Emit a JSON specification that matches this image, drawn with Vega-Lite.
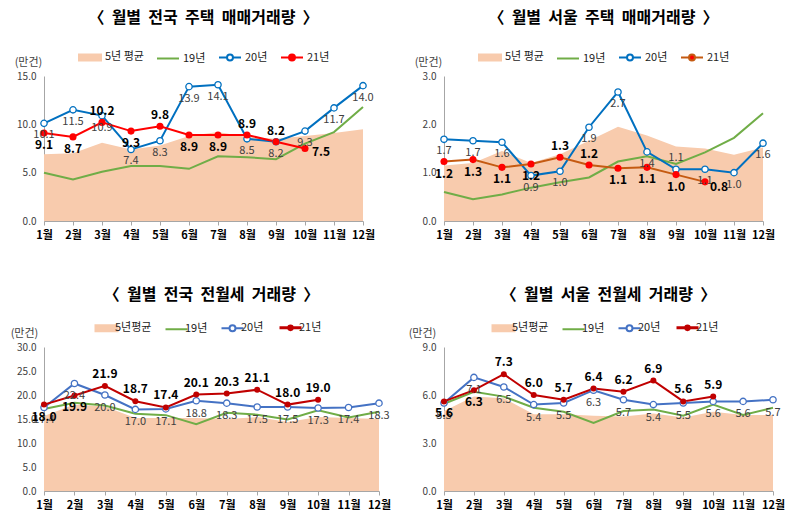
{
  "$schema": "https://vega.github.io/schema/vega-lite/v6.json",
  "background": "white",
  "padding": {"left": 10, "top": 10, "right": 5, "bottom": 5},
  "datasets": {
    "d": [
      {"p":1,"s":"5년 평균","m":1,"v":6.9},{"p":1,"s":"5년 평균","m":2,"v":7.0},{"p":1,"s":"5년 평균","m":3,"v":8.1},{"p":1,"s":"5년 평균","m":4,"v":7.4},{"p":1,"s":"5년 평균","m":5,"v":7.8},{"p":1,"s":"5년 평균","m":6,"v":8.8},{"p":1,"s":"5년 평균","m":7,"v":9.2},{"p":1,"s":"5년 평균","m":8,"v":8.7},{"p":1,"s":"5년 평균","m":9,"v":8.5},{"p":1,"s":"5년 평균","m":10,"v":8.8},{"p":1,"s":"5년 평균","m":11,"v":9.1},{"p":1,"s":"5년 평균","m":12,"v":9.5},
      {"p":1,"s":"19년","m":1,"v":5.0},{"p":1,"s":"19년","m":2,"v":4.3},{"p":1,"s":"19년","m":3,"v":5.1},{"p":1,"s":"19년","m":4,"v":5.7},{"p":1,"s":"19년","m":5,"v":5.7},{"p":1,"s":"19년","m":6,"v":5.4},{"p":1,"s":"19년","m":7,"v":6.7},{"p":1,"s":"19년","m":8,"v":6.6},{"p":1,"s":"19년","m":9,"v":6.4},{"p":1,"s":"19년","m":10,"v":8.0},{"p":1,"s":"19년","m":11,"v":9.2},{"p":1,"s":"19년","m":12,"v":11.8},
      {"p":1,"s":"20년","m":1,"v":10.1},{"p":1,"s":"20년","m":2,"v":11.5},{"p":1,"s":"20년","m":3,"v":10.9},{"p":1,"s":"20년","m":4,"v":7.4},{"p":1,"s":"20년","m":5,"v":8.3},{"p":1,"s":"20년","m":6,"v":13.9},{"p":1,"s":"20년","m":7,"v":14.1},{"p":1,"s":"20년","m":8,"v":8.5},{"p":1,"s":"20년","m":9,"v":8.2},{"p":1,"s":"20년","m":10,"v":9.3},{"p":1,"s":"20년","m":11,"v":11.7},{"p":1,"s":"20년","m":12,"v":14.0},
      {"p":1,"s":"21년","m":1,"v":9.1},{"p":1,"s":"21년","m":2,"v":8.7},{"p":1,"s":"21년","m":3,"v":10.2},{"p":1,"s":"21년","m":4,"v":9.3},{"p":1,"s":"21년","m":5,"v":9.8},{"p":1,"s":"21년","m":6,"v":8.9},{"p":1,"s":"21년","m":7,"v":8.9},{"p":1,"s":"21년","m":8,"v":8.9},{"p":1,"s":"21년","m":9,"v":8.2},{"p":1,"s":"21년","m":10,"v":7.5},

      {"p":2,"s":"5년 평균","m":1,"v":1.15},{"p":2,"s":"5년 평균","m":2,"v":1.2},{"p":2,"s":"5년 평균","m":3,"v":1.45},{"p":2,"s":"5년 평균","m":4,"v":1.2},{"p":2,"s":"5년 평균","m":5,"v":1.38},{"p":2,"s":"5년 평균","m":6,"v":1.66},{"p":2,"s":"5년 평균","m":7,"v":1.95},{"p":2,"s":"5년 평균","m":8,"v":1.77},{"p":2,"s":"5년 평균","m":9,"v":1.54},{"p":2,"s":"5년 평균","m":10,"v":1.5},{"p":2,"s":"5년 평균","m":11,"v":1.37},{"p":2,"s":"5년 평균","m":12,"v":1.52},
      {"p":2,"s":"19년","m":1,"v":0.6},{"p":2,"s":"19년","m":2,"v":0.45},{"p":2,"s":"19년","m":3,"v":0.55},{"p":2,"s":"19년","m":4,"v":0.69},{"p":2,"s":"19년","m":5,"v":0.8},{"p":2,"s":"19년","m":6,"v":0.9},{"p":2,"s":"19년","m":7,"v":1.23},{"p":2,"s":"19년","m":8,"v":1.34},{"p":2,"s":"19년","m":9,"v":1.18},{"p":2,"s":"19년","m":10,"v":1.42},{"p":2,"s":"19년","m":11,"v":1.72},{"p":2,"s":"19년","m":12,"v":2.23},
      {"p":2,"s":"20년","m":1,"v":1.69},{"p":2,"s":"20년","m":2,"v":1.66},{"p":2,"s":"20년","m":3,"v":1.63},{"p":2,"s":"20년","m":4,"v":0.94},{"p":2,"s":"20년","m":5,"v":1.03},{"p":2,"s":"20년","m":6,"v":1.94},{"p":2,"s":"20년","m":7,"v":2.67},{"p":2,"s":"20년","m":8,"v":1.43},{"p":2,"s":"20년","m":9,"v":1.07},{"p":2,"s":"20년","m":10,"v":1.07},{"p":2,"s":"20년","m":11,"v":1.0},{"p":2,"s":"20년","m":12,"v":1.61},
      {"p":2,"s":"21년","m":1,"v":1.23},{"p":2,"s":"21년","m":2,"v":1.27},{"p":2,"s":"21년","m":3,"v":1.11},{"p":2,"s":"21년","m":4,"v":1.18},{"p":2,"s":"21년","m":5,"v":1.32},{"p":2,"s":"21년","m":6,"v":1.16},{"p":2,"s":"21년","m":7,"v":1.09},{"p":2,"s":"21년","m":8,"v":1.11},{"p":2,"s":"21년","m":9,"v":0.96},{"p":2,"s":"21년","m":10,"v":0.81},

      {"p":3,"s":"5년평균","m":1,"v":15.6},{"p":3,"s":"5년평균","m":2,"v":18.0},{"p":3,"s":"5년평균","m":3,"v":17.6},{"p":3,"s":"5년평균","m":4,"v":15.2},{"p":3,"s":"5년평균","m":5,"v":15.2},{"p":3,"s":"5년평균","m":6,"v":15.2},{"p":3,"s":"5년평균","m":7,"v":15.0},{"p":3,"s":"5년평균","m":8,"v":15.4},{"p":3,"s":"5년평균","m":9,"v":14.4},{"p":3,"s":"5년평균","m":10,"v":15.4},{"p":3,"s":"5년평균","m":11,"v":15.2},{"p":3,"s":"5년평균","m":12,"v":15.0},
      {"p":3,"s":"19년","m":1,"v":17.1},{"p":3,"s":"19년","m":2,"v":18.4},{"p":3,"s":"19년","m":3,"v":17.8},{"p":3,"s":"19년","m":4,"v":16.1},{"p":3,"s":"19년","m":5,"v":15.8},{"p":3,"s":"19년","m":6,"v":13.9},{"p":3,"s":"19년","m":7,"v":16.3},{"p":3,"s":"19년","m":8,"v":15.9},{"p":3,"s":"19년","m":9,"v":14.9},{"p":3,"s":"19년","m":10,"v":16.8},{"p":3,"s":"19년","m":11,"v":15.3},{"p":3,"s":"19년","m":12,"v":16.5},
      {"p":3,"s":"20년","m":1,"v":17.4},{"p":3,"s":"20년","m":2,"v":22.4},{"p":3,"s":"20년","m":3,"v":20.0},{"p":3,"s":"20년","m":4,"v":17.0},{"p":3,"s":"20년","m":5,"v":17.1},{"p":3,"s":"20년","m":6,"v":18.8},{"p":3,"s":"20년","m":7,"v":18.3},{"p":3,"s":"20년","m":8,"v":17.5},{"p":3,"s":"20년","m":9,"v":17.5},{"p":3,"s":"20년","m":10,"v":17.3},{"p":3,"s":"20년","m":11,"v":17.4},{"p":3,"s":"20년","m":12,"v":18.3},
      {"p":3,"s":"21년","m":1,"v":18.0},{"p":3,"s":"21년","m":2,"v":19.9},{"p":3,"s":"21년","m":3,"v":21.9},{"p":3,"s":"21년","m":4,"v":18.7},{"p":3,"s":"21년","m":5,"v":17.4},{"p":3,"s":"21년","m":6,"v":20.1},{"p":3,"s":"21년","m":7,"v":20.3},{"p":3,"s":"21년","m":8,"v":21.1},{"p":3,"s":"21년","m":9,"v":18.0},{"p":3,"s":"21년","m":10,"v":19.0},

      {"p":4,"s":"5년평균","m":1,"v":5.0},{"p":4,"s":"5년평균","m":2,"v":5.9},{"p":4,"s":"5년평균","m":3,"v":5.8},{"p":4,"s":"5년평균","m":4,"v":4.8},{"p":4,"s":"5년평균","m":5,"v":4.8},{"p":4,"s":"5년평균","m":6,"v":4.7},{"p":4,"s":"5년평균","m":7,"v":4.65},{"p":4,"s":"5년평균","m":8,"v":4.85},{"p":4,"s":"5년평균","m":9,"v":4.6},{"p":4,"s":"5년평균","m":10,"v":4.95},{"p":4,"s":"5년평균","m":11,"v":4.75},{"p":4,"s":"5년평균","m":12,"v":4.75},
      {"p":4,"s":"19년","m":1,"v":5.45},{"p":4,"s":"19년","m":2,"v":6.2},{"p":4,"s":"19년","m":3,"v":5.9},{"p":4,"s":"19년","m":4,"v":5.2},{"p":4,"s":"19년","m":5,"v":4.95},{"p":4,"s":"19년","m":6,"v":4.25},{"p":4,"s":"19년","m":7,"v":5.0},{"p":4,"s":"19년","m":8,"v":5.1},{"p":4,"s":"19년","m":9,"v":4.7},{"p":4,"s":"19년","m":10,"v":5.4},{"p":4,"s":"19년","m":11,"v":4.75},{"p":4,"s":"19년","m":12,"v":5.2},
      {"p":4,"s":"20년","m":1,"v":5.5},{"p":4,"s":"20년","m":2,"v":7.1},{"p":4,"s":"20년","m":3,"v":6.5},{"p":4,"s":"20년","m":4,"v":5.4},{"p":4,"s":"20년","m":5,"v":5.5},{"p":4,"s":"20년","m":6,"v":6.3},{"p":4,"s":"20년","m":7,"v":5.7},{"p":4,"s":"20년","m":8,"v":5.4},{"p":4,"s":"20년","m":9,"v":5.5},{"p":4,"s":"20년","m":10,"v":5.6},{"p":4,"s":"20년","m":11,"v":5.6},{"p":4,"s":"20년","m":12,"v":5.7},
      {"p":4,"s":"21년","m":1,"v":5.6},{"p":4,"s":"21년","m":2,"v":6.3},{"p":4,"s":"21년","m":3,"v":7.3},{"p":4,"s":"21년","m":4,"v":6.0},{"p":4,"s":"21년","m":5,"v":5.7},{"p":4,"s":"21년","m":6,"v":6.4},{"p":4,"s":"21년","m":7,"v":6.2},{"p":4,"s":"21년","m":8,"v":6.9},{"p":4,"s":"21년","m":9,"v":5.6},{"p":4,"s":"21년","m":10,"v":5.9}
    ]
  },
  "resolve": {"scale": {"color": "independent"}, "legend": {"color": "independent"}},
  "spacing": 47,
  "vconcat": [
    {
      "resolve": {"scale": {"color": "independent"}, "legend": {"color": "independent"}},
      "spacing": 39,
      "hconcat": [
        {
          "width": 319, "height": 145,
          "title": "〈\u00a0 월별\u00a0 전국\u00a0 주택\u00a0 매매거래량\u00a0 〉",
          "data": {"name": "d"},
          "transform": [{"filter": "datum.p==1"}],
          "encoding": {
            "x": {"field": "m", "type": "quantitative", "scale": {"domain": [1, 12], "nice": false}, "axis": {"values": [1,2,3,4,5,6,7,8,9,10,11,12], "labelExpr": "datum.value + '월'", "title": null}},
            "y": {"field": "v", "type": "quantitative", "scale": {"domain": [0, 15], "nice": false}, "axis": {"values": [0, 5, 10, 15], "format": ".1f", "title": "(만건)"}}
          },
          "layer": [
            {"transform": [{"filter": "indexof(datum.s,'5년')==0"}], "mark": {"type": "area", "color": "#F8CBAD", "opacity": 1}},
            {"transform": [{"filter": "indexof(datum.s,'5년')!=0"}], "mark": {"type": "line", "strokeWidth": 2},
             "encoding": {"color": {"field": "s", "type": "nominal",
               "scale": {"domain": ["5년 평균", "19년", "20년", "21년"], "range": ["#F8CBAD", "#70AD47", "#0070C0", "#FF0000"]},
               "legend": {"title": null, "orient": "top", "direction": "horizontal", "symbolSize": 484,
                 "encode": {"symbols": {"update": {
                   "shape": {"signal": "indexof(datum.value,'5년')==0 ? 'M-1,-0.28H1V0.28H-1Z' : datum.value=='19년' ? 'M-1,0H1' : 'M-1,0H-0.27M0.27,0H1M0.27,0A0.27,0.27,0,1,1,-0.27,0A0.27,0.27,0,1,1,0.27,0'"},
                   "fill": {"signal": "indexof(datum.value,'5년')==0 ? '#F8CBAD' : datum.value=='20년' ? '#FFFFFF' : datum.value=='21년' ? '#FF0000' : 'transparent'"},
                   "stroke": {"signal": "indexof(datum.value,'5년')==0 ? 'transparent' : datum.value=='19년' ? '#70AD47' : datum.value=='20년' ? '#0070C0' : '#FF0000'"},
                   "strokeWidth": {"value": 2},
                   "opacity": {"value": 1}
                 }}}}}}},
            {"transform": [{"filter": "datum.s=='20년'"}], "mark": {"type": "point", "filled": true, "fill": "#FFFFFF", "stroke": "#0070C0", "strokeWidth": 1.3, "size": 40, "opacity": 1}},
            {"transform": [{"filter": "datum.s=='21년'"}], "mark": {"type": "circle", "color": "#FF0000", "size": 50, "opacity": 1}},
            {"transform": [{"filter": "datum.s=='20년'"}], "mark": {"type": "text", "dy": 12, "fontSize": 11, "color": "#404040"}, "encoding": {"text": {"field": "v", "format": ".1f"}}},
            {"transform": [{"filter": "datum.s=='21년' && indexof([3,5,8,9], datum.m)>=0"}], "mark": {"type": "text", "dy": -11, "fontSize": 12, "fontWeight": "bold", "color": "#000000"}, "encoding": {"text": {"field": "v", "format": ".1f"}}},
            {"transform": [{"filter": "datum.s=='21년' && indexof([1,2,4,6,7], datum.m)>=0"}], "mark": {"type": "text", "dy": 12, "fontSize": 12, "fontWeight": "bold", "color": "#000000"}, "encoding": {"text": {"field": "v", "format": ".1f"}}},
            {"transform": [{"filter": "datum.s=='21년' && datum.m==10"}], "mark": {"type": "text", "dx": 16, "dy": 3, "fontSize": 12, "fontWeight": "bold", "color": "#000000"}, "encoding": {"text": {"field": "v", "format": ".1f"}}}
          ]
        },
        {
          "width": 319, "height": 145,
          "title": "〈\u00a0 월별\u00a0 서울\u00a0 주택\u00a0 매매거래량\u00a0 〉",
          "data": {"name": "d"},
          "transform": [{"filter": "datum.p==2"}],
          "encoding": {
            "x": {"field": "m", "type": "quantitative", "scale": {"domain": [1, 12], "nice": false}, "axis": {"values": [1,2,3,4,5,6,7,8,9,10,11,12], "labelExpr": "datum.value + '월'", "title": null}},
            "y": {"field": "v", "type": "quantitative", "scale": {"domain": [0, 3], "nice": false}, "axis": {"values": [0, 1, 2, 3], "format": ".1f", "title": "(만건)"}}
          },
          "layer": [
            {"transform": [{"filter": "indexof(datum.s,'5년')==0"}], "mark": {"type": "area", "color": "#F8CBAD", "opacity": 1}},
            {"transform": [{"filter": "indexof(datum.s,'5년')!=0"}], "mark": {"type": "line", "strokeWidth": 2},
             "encoding": {"color": {"field": "s", "type": "nominal",
               "scale": {"domain": ["5년 평균", "19년", "20년", "21년"], "range": ["#F8CBAD", "#70AD47", "#0070C0", "#C55A11"]},
               "legend": {"title": null, "orient": "top", "direction": "horizontal", "symbolSize": 484,
                 "encode": {"symbols": {"update": {
                   "shape": {"signal": "indexof(datum.value,'5년')==0 ? 'M-1,-0.28H1V0.28H-1Z' : datum.value=='19년' ? 'M-1,0H1' : 'M-1,0H-0.27M0.27,0H1M0.27,0A0.27,0.27,0,1,1,-0.27,0A0.27,0.27,0,1,1,0.27,0'"},
                   "fill": {"signal": "indexof(datum.value,'5년')==0 ? '#F8CBAD' : datum.value=='20년' ? '#FFFFFF' : datum.value=='21년' ? '#FF0000' : 'transparent'"},
                   "stroke": {"signal": "indexof(datum.value,'5년')==0 ? 'transparent' : datum.value=='19년' ? '#70AD47' : datum.value=='20년' ? '#0070C0' : '#C55A11'"},
                   "strokeWidth": {"value": 2},
                   "opacity": {"value": 1}
                 }}}}}}},
            {"transform": [{"filter": "datum.s=='20년'"}], "mark": {"type": "point", "filled": true, "fill": "#FFFFFF", "stroke": "#0070C0", "strokeWidth": 1.3, "size": 40, "opacity": 1}},
            {"transform": [{"filter": "datum.s=='21년'"}], "mark": {"type": "circle", "color": "#FF0000", "size": 50, "opacity": 1}},
            {"transform": [{"filter": "datum.s=='20년' && datum.m!=9"}], "mark": {"type": "text", "dy": 12, "fontSize": 11, "color": "#404040"}, "encoding": {"text": {"field": "v", "format": ".1f"}}},
            {"transform": [{"filter": "datum.s=='20년' && datum.m==9"}], "mark": {"type": "text", "dy": -11, "fontSize": 11, "color": "#404040"}, "encoding": {"text": {"field": "v", "format": ".1f"}}},
            {"transform": [{"filter": "datum.s=='21년' && indexof([5,6], datum.m)>=0"}], "mark": {"type": "text", "dy": -11, "fontSize": 12, "fontWeight": "bold", "color": "#000000"}, "encoding": {"text": {"field": "v", "format": ".1f"}}},
            {"transform": [{"filter": "datum.s=='21년' && indexof([1,2,3,4,7,8,9], datum.m)>=0"}], "mark": {"type": "text", "dy": 12, "fontSize": 12, "fontWeight": "bold", "color": "#000000"}, "encoding": {"text": {"field": "v", "format": ".1f"}}},
            {"transform": [{"filter": "datum.s=='21년' && datum.m==10"}], "mark": {"type": "text", "dx": 14, "dy": 5, "fontSize": 12, "fontWeight": "bold", "color": "#000000"}, "encoding": {"text": {"field": "v", "format": ".1f"}}}
          ]
        }
      ]
    },
    {
      "resolve": {"scale": {"color": "independent"}, "legend": {"color": "independent"}},
      "spacing": 17,
      "hconcat": [
        {
          "width": 335, "height": 144,
          "title": "〈\u00a0 월별\u00a0 전국\u00a0 전월세\u00a0 거래량\u00a0 〉",
          "data": {"name": "d"},
          "transform": [{"filter": "datum.p==3"}],
          "encoding": {
            "x": {"field": "m", "type": "quantitative", "scale": {"domain": [1, 12], "nice": false}, "axis": {"values": [1,2,3,4,5,6,7,8,9,10,11,12], "labelExpr": "datum.value + '월'", "title": null}},
            "y": {"field": "v", "type": "quantitative", "scale": {"domain": [0, 30], "nice": false}, "axis": {"values": [0, 5, 10, 15, 20, 25, 30], "format": ".1f", "title": "(만건)", "titleX": -20}}
          },
          "layer": [
            {"transform": [{"filter": "indexof(datum.s,'5년')==0"}], "mark": {"type": "area", "color": "#F8CBAD", "opacity": 1}},
            {"transform": [{"filter": "indexof(datum.s,'5년')!=0"}], "mark": {"type": "line", "strokeWidth": 2},
             "encoding": {
               "color": {"field": "s", "type": "nominal",
               "scale": {"domain": ["5년평균", "19년", "20년", "21년"], "range": ["#F8CBAD", "#70AD47", "#4472C4", "#C00000"]},
               "legend": {"title": null, "orient": "top", "direction": "horizontal", "symbolSize": 484,
                 "encode": {"symbols": {"update": {
                   "shape": {"signal": "indexof(datum.value,'5년')==0 ? 'M-1,-0.28H1V0.28H-1Z' : datum.value=='19년' ? 'M-1,0H1' : datum.value=='20년' ? 'M-1,0H-0.27M0.27,0H1M0.27,0A0.27,0.27,0,1,1,-0.27,0A0.27,0.27,0,1,1,0.27,0' : 'M-1,0H1M0.16,0A0.16,0.16,0,1,1,-0.16,0A0.16,0.16,0,1,1,0.16,0'"},
                   "fill": {"signal": "indexof(datum.value,'5년')==0 ? '#F8CBAD' : datum.value=='20년' ? '#FFFFFF' : datum.value=='21년' ? '#C00000' : 'transparent'"},
                   "stroke": {"signal": "indexof(datum.value,'5년')==0 ? 'transparent' : datum.value=='19년' ? '#70AD47' : datum.value=='20년' ? '#4472C4' : '#C00000'"},
                   "strokeWidth": {"signal": "datum.value=='21년' ? 3 : 2"},
                   "opacity": {"value": 1}
                 }}}}},
               "strokeWidth": {"condition": {"test": "datum.s=='21년'", "value": 3}, "value": 2}
             }},
            {"transform": [{"filter": "datum.s=='20년'"}], "mark": {"type": "point", "filled": true, "fill": "#FFFFFF", "stroke": "#4472C4", "strokeWidth": 1.3, "size": 40, "opacity": 1}},
            {"transform": [{"filter": "datum.s=='21년'"}], "mark": {"type": "circle", "color": "#C00000", "size": 36, "opacity": 1}},
            {"transform": [{"filter": "datum.s=='20년'"}], "mark": {"type": "text", "dy": 13, "fontSize": 11, "color": "#404040"}, "encoding": {"text": {"field": "v", "format": ".1f"}}},
            {"transform": [{"filter": "datum.s=='21년' && datum.m>=3"}], "mark": {"type": "text", "dy": -12, "fontSize": 12, "fontWeight": "bold", "color": "#000000"}, "encoding": {"text": {"field": "v", "format": ".1f"}}},
            {"transform": [{"filter": "datum.s=='21년' && datum.m<3"}], "mark": {"type": "text", "dy": 12, "fontSize": 12, "fontWeight": "bold", "color": "#000000"}, "encoding": {"text": {"field": "v", "format": ".1f"}}}
          ]
        },
        {
          "width": 329, "height": 144,
          "title": "〈\u00a0 월별\u00a0 서울\u00a0 전월세\u00a0 거래량\u00a0 〉",
          "data": {"name": "d"},
          "transform": [{"filter": "datum.p==4"}],
          "encoding": {
            "x": {"field": "m", "type": "quantitative", "scale": {"domain": [1, 12], "nice": false}, "axis": {"values": [1,2,3,4,5,6,7,8,9,10,11,12], "labelExpr": "datum.value + '월'", "title": null}},
            "y": {"field": "v", "type": "quantitative", "scale": {"domain": [0, 9], "nice": false}, "axis": {"values": [0, 3, 6, 9], "format": ".1f", "title": "(만건)", "titleX": -22}}
          },
          "layer": [
            {"transform": [{"filter": "indexof(datum.s,'5년')==0"}], "mark": {"type": "area", "color": "#F8CBAD", "opacity": 1}},
            {"transform": [{"filter": "indexof(datum.s,'5년')!=0"}], "mark": {"type": "line", "strokeWidth": 2},
             "encoding": {
               "color": {"field": "s", "type": "nominal",
               "scale": {"domain": ["5년평균", "19년", "20년", "21년"], "range": ["#F8CBAD", "#70AD47", "#4472C4", "#C00000"]},
               "legend": {"title": null, "orient": "top", "direction": "horizontal", "symbolSize": 484,
                 "encode": {"symbols": {"update": {
                   "shape": {"signal": "indexof(datum.value,'5년')==0 ? 'M-1,-0.28H1V0.28H-1Z' : datum.value=='19년' ? 'M-1,0H1' : datum.value=='20년' ? 'M-1,0H-0.27M0.27,0H1M0.27,0A0.27,0.27,0,1,1,-0.27,0A0.27,0.27,0,1,1,0.27,0' : 'M-1,0H1M0.16,0A0.16,0.16,0,1,1,-0.16,0A0.16,0.16,0,1,1,0.16,0'"},
                   "fill": {"signal": "indexof(datum.value,'5년')==0 ? '#F8CBAD' : datum.value=='20년' ? '#FFFFFF' : datum.value=='21년' ? '#C00000' : 'transparent'"},
                   "stroke": {"signal": "indexof(datum.value,'5년')==0 ? 'transparent' : datum.value=='19년' ? '#70AD47' : datum.value=='20년' ? '#4472C4' : '#C00000'"},
                   "strokeWidth": {"signal": "datum.value=='21년' ? 3 : 2"},
                   "opacity": {"value": 1}
                 }}}}},
               "strokeWidth": {"condition": {"test": "datum.s=='21년'", "value": 3}, "value": 2}
             }},
            {"transform": [{"filter": "datum.s=='20년'"}], "mark": {"type": "point", "filled": true, "fill": "#FFFFFF", "stroke": "#4472C4", "strokeWidth": 1.3, "size": 40, "opacity": 1}},
            {"transform": [{"filter": "datum.s=='21년'"}], "mark": {"type": "circle", "color": "#C00000", "size": 36, "opacity": 1}},
            {"transform": [{"filter": "datum.s=='20년'"}], "mark": {"type": "text", "dy": 13, "fontSize": 11, "color": "#404040"}, "encoding": {"text": {"field": "v", "format": ".1f"}}},
            {"transform": [{"filter": "datum.s=='21년' && datum.m>=3"}], "mark": {"type": "text", "dy": -12, "fontSize": 12, "fontWeight": "bold", "color": "#000000"}, "encoding": {"text": {"field": "v", "format": ".1f"}}},
            {"transform": [{"filter": "datum.s=='21년' && datum.m<3"}], "mark": {"type": "text", "dy": 12, "fontSize": 12, "fontWeight": "bold", "color": "#000000"}, "encoding": {"text": {"field": "v", "format": ".1f"}}}
          ]
        }
      ]
    }
  ],
  "config": {
    "font": "Noto Sans CJK KR",
    "view": {"stroke": null},
    "axis": {"grid": false, "domainColor": "#A6A6A6", "labelFont": "Noto Sans CJK KR", "titleFont": "Noto Sans CJK KR"},
    "axisX": {"labelFontWeight": "bold", "labelFontSize": 11, "labelColor": "#000000", "tickSize": 4, "tickColor": "#A6A6A6", "labelPadding": 4, "labelAngle": 0, "labelOverlap": false, "labelFlush": false},
    "axisY": {"ticks": false, "labelFontSize": 10, "labelColor": "#404040", "labelPadding": 8, "titleAngle": 0, "titleAnchor": "end", "titleAlign": "center", "titleBaseline": "bottom", "titleFontWeight": "normal", "titleFontSize": 11, "titleColor": "#404040", "titleY": -9, "titleX": -16},
    "title": {"fontSize": 16, "fontWeight": "bold", "color": "#000000", "offset": 19, "anchor": "middle"},
    "legend": {"labelFontSize": 11, "labelColor": "#222222", "columnPadding": 9, "labelOffset": 3, "offset": 11, "layout": {"top": {"anchor": "middle"}}}
  }
}
